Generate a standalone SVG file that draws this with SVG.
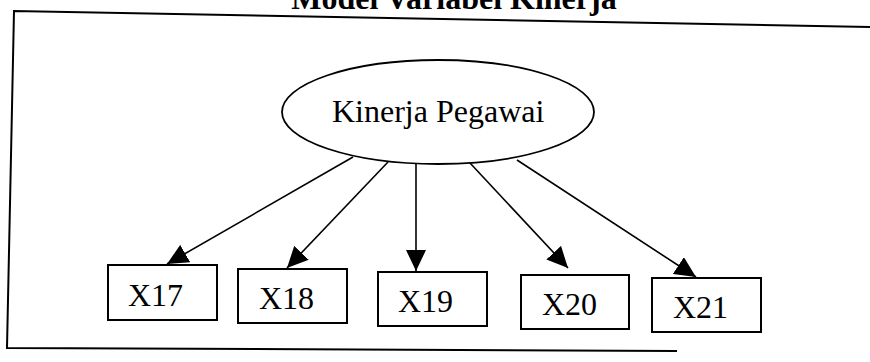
<svg xmlns="http://www.w3.org/2000/svg" width="870" height="362" viewBox="0 0 870 362">
  <style>
    .title { font-family: "Liberation Serif", "Times New Roman", serif; font-size: 32px; font-weight: bold; fill: #000; }
    .lbl { font-family: "Liberation Serif", "Times New Roman", serif; font-size: 32px; fill: #000; }
    .box { fill: #fff; stroke: #000; stroke-width: 2; }
    .frame { fill: none; stroke: #000; stroke-width: 2; }
    .edge { fill: none; stroke: #000; stroke-width: 1.6; marker-end: url(#head); }
  </style>
  <defs>
    <marker id="head" markerUnits="userSpaceOnUse" markerWidth="22" markerHeight="20" refX="21" refY="10" orient="auto">
      <path d="M0,0 L21,10 L0,20 Z" fill="#000"/>
    </marker>
  </defs>
  <rect width="870" height="362" fill="#fff"/>

  <!-- heading, partly above the top edge -->
  <text class="title" x="454" y="9" text-anchor="middle">Model Variabel Kinerja</text>

  <!-- outer frame (open on the right) -->
  <path class="frame" d="M870,27 L14,11 L7,348 L677,351"/>

  <!-- connectors -->
  <g id="connectors">
    <line class="edge" x1="353" y1="157" x2="167" y2="264"/>
    <line class="edge" x1="388" y1="162" x2="287" y2="268"/>
    <line class="edge" x1="416" y1="164" x2="416" y2="271"/>
    <line class="edge" x1="470" y1="163" x2="568" y2="268"/>
    <line class="edge" x1="517" y1="160" x2="696" y2="277"/>
  </g>

  <g id="kinerja-pegawai">
    <ellipse cx="438" cy="112" rx="156" ry="52" fill="#fff" stroke="#000" stroke-width="1.8"/>
    <text class="lbl" x="332" y="122">Kinerja Pegawai</text>
  </g>

  <g id="x17">
    <rect class="box" x="108" y="265" width="109" height="55"/>
    <text class="lbl" x="128" y="306">X17</text>
  </g>
  <g id="x18">
    <rect class="box" x="238" y="269" width="109" height="54"/>
    <text class="lbl" x="259" y="309">X18</text>
  </g>
  <g id="x19">
    <rect class="box" x="378" y="272" width="109" height="54"/>
    <text class="lbl" x="398" y="312">X19</text>
  </g>
  <g id="x20">
    <rect class="box" x="521" y="275" width="108" height="54"/>
    <text class="lbl" x="542" y="315">X20</text>
  </g>
  <g id="x21">
    <rect class="box" x="652" y="278" width="109" height="54"/>
    <text class="lbl" x="673" y="318">X21</text>
  </g>
</svg>
